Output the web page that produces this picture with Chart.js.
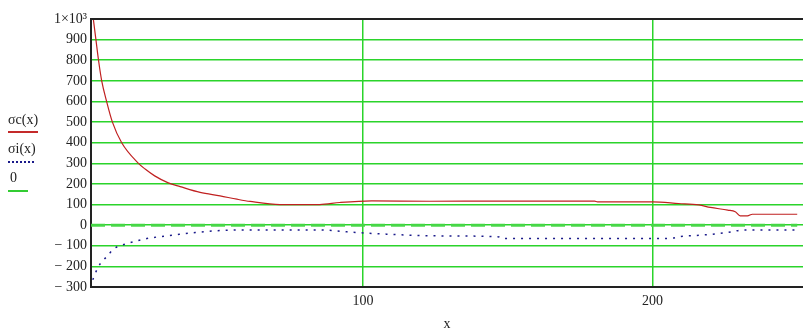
<!DOCTYPE html>
<html>
<head>
<meta charset="utf-8">
<script src="https://cdn.jsdelivr.net/npm/chart.js@4/dist/chart.umd.min.js"></script>
<style>
  html, body { margin: 0; padding: 0; background: #fff; }
  #wrap { position: relative; width: 803px; height: 333px; }
  .lg { position: absolute; font: 14px "Liberation Serif", "Times New Roman", serif; color: #222; }
  .ln { position: absolute; }
</style>
</head>
<body>
<div id="wrap">
  <canvas id="c" width="803" height="333"></canvas>
  <div class="lg" style="left:8px;top:112px">σc(x)</div>
  <div class="ln" style="left:8px;top:131px;width:30px;height:2px;background:#c42a2a"></div>
  <div class="lg" style="left:8px;top:141px">σi(x)</div>
  <div class="ln" style="left:8px;top:161px;width:26px;border-top:2px dotted #1a1a8a"></div>
  <div class="lg" style="left:10px;top:170px">0</div>
  <div class="ln" style="left:8px;top:190px;width:20px;height:2px;background:#33cc33"></div>
</div>
<script>
// values
const sigmaCx = [6.8, 7.7, 8.6, 9.7, 11.4, 13.4, 16.6, 22.4, 24.7, 28, 32.7, 36.8, 43.7, 50.6, 56.4, 61, 71.3, 85, 92, 103, 123, 147, 180, 181, 200, 209, 216, 220, 226, 228.6, 230.3, 232.8, 234.5, 250];
const sigmaC  = [1000, 900, 800, 700, 600, 500, 400, 300, 272, 239, 205, 187, 159, 142, 126, 115, 100, 100, 110, 118, 116, 117, 117, 113, 113, 105, 98, 86, 73, 65, 45, 45, 53, 53];
const sigmaIx = [6.6, 8.5, 10.3, 12, 13.7, 16, 17.8, 20.6, 25.3, 32, 36.8, 42, 48, 59.8, 85, 94, 103, 117, 125, 147, 148, 200, 207, 209.6, 216, 222, 228, 231, 250];
const sigmaI  = [-265, -202, -170, -144, -116, -100, -92, -81, -65, -52, -44, -36, -28, -23, -23, -32, -40, -49, -52, -57, -65, -65, -63, -55, -49, -42, -31, -23, -23];
const zeroX = [6, 250];
const zeroY = [0, 0];
const xTicks = [100, 200];

const pts = (xs, ys) => xs.map((x, i) => ({ x: x, y: ys[i] }));
const serif = '"Liberation Serif", "Times New Roman", serif';

// black frame line along the top of the plot
const topBorder = {
  id: 'topBorder',
  afterDraw(chart) {
    const { ctx, chartArea } = chart;
    ctx.save();
    ctx.strokeStyle = '#222';
    ctx.lineWidth = 2;
    ctx.beginPath();
    ctx.moveTo(chartArea.left, chartArea.top);
    ctx.lineTo(chartArea.right, chartArea.top);
    ctx.stroke();
    ctx.restore();
  }
};

new Chart(document.getElementById('c'), {
  type: 'line',
  data: {
    datasets: [
      { label: '0', data: pts(zeroX, zeroY), borderColor: 'rgba(70,215,70,0.95)', borderWidth: 3, borderDash: [14, 6], pointRadius: 0 },
      { label: 'σi(x)', data: pts(sigmaIx, sigmaI), borderColor: '#1a1a8a', borderWidth: 1.5, borderDash: [2, 6], pointRadius: 0, cubicInterpolationMode: 'monotone' },
      { label: 'σc(x)', data: pts(sigmaCx, sigmaC), borderColor: '#c02020', borderWidth: 1.2, pointRadius: 0, cubicInterpolationMode: 'monotone' }
    ]
  },
  options: {
    responsive: false,
    animation: false,
    layout: { padding: { top: 19, left: 0, right: 0, bottom: 0 } },
    plugins: { legend: { display: false }, tooltip: { enabled: false } },
    scales: {
      x: {
        type: 'linear',
        min: 6,
        max: 252,
        afterBuildTicks: (s) => { s.ticks = xTicks.map(v => ({ value: v })); },
        afterFit: (s) => { s.height = 46; },
        grid: { color: '#2bd42b', lineWidth: 1.5, drawTicks: false },
        border: { color: '#222', width: 2 },
        ticks: { padding: 6, color: '#222', font: { family: serif, size: 14 } },
        title: { display: true, text: 'x', color: '#222', padding: { top: 0, bottom: 0 }, font: { family: serif, size: 14 } }
      },
      y: {
        min: -300,
        max: 1000,
        afterFit: (s) => { s.width = 91; },
        grid: { color: '#2bd42b', lineWidth: 1.5, drawTicks: false },
        border: { color: '#222', width: 2 },
        ticks: {
          stepSize: 100,
          padding: 4,
          color: '#222',
          font: { family: serif, size: 14 },
          callback: (v) => v === 1000 ? '1×10³' : (v < 0 ? '− ' + Math.abs(v) : String(v))
        }
      }
    }
  },
  plugins: [topBorder]
});
</script>
</body>
</html>
